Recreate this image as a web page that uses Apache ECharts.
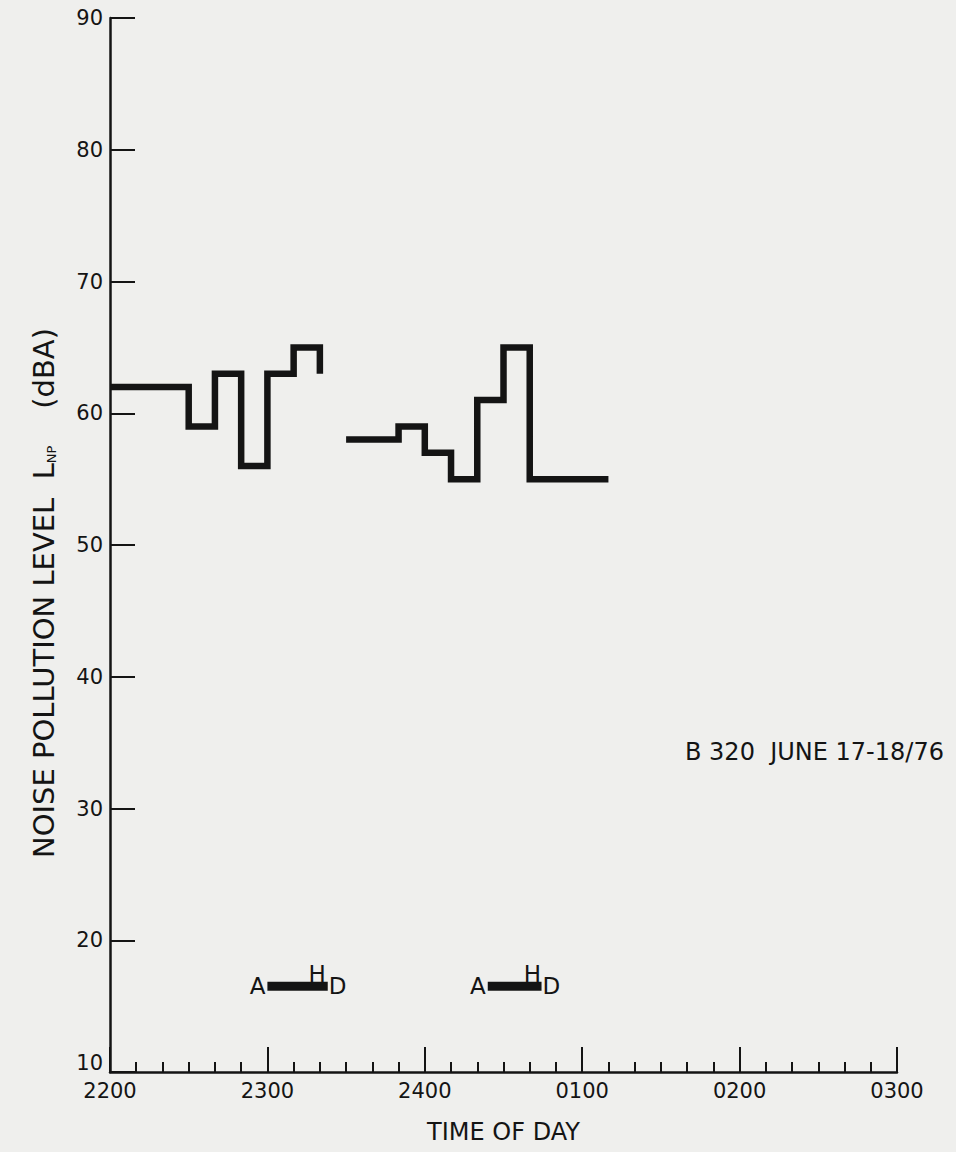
<!DOCTYPE html>
<html>
<head>
<meta charset="utf-8">
<script src="https://cdn.jsdelivr.net/npm/echarts@6/dist/echarts.min.js"></script>
<style>
  html, body { margin: 0; padding: 0; background: #efefed; }
  #chart { width: 956px; height: 1152px; }
</style>
</head>
<body>
<div id="chart"></div>
<script>
// ---- data (minutes after 2200, dBA) ----
const xTickLabels = ['2200', '2300', '2400', '0100', '0200', '0300'];
const seg1Minutes = [0, 30, 40, 50, 60, 70, 80];
const seg1Levels  = [62, 59, 63, 56, 63, 65, 63];
const seg2Minutes = [90, 110, 120, 130, 140, 150, 160, 190];
const seg2Levels  = [58, 59, 57, 55, 61, 65, 55, 55];
const eventStart  = [60, 144];     // "A"
const eventEnd    = [83, 164.5];   // "D"
const eventH      = [79, 161];     // "H"
const eventLevel  = 16.5;
const noteText    = 'B 320  JUNE 17-18/76';

const INK = '#141414';
const FONT = 'DejaVu Sans';

function pairs(xs, ys) { return xs.map((x, i) => [x, ys[i]]); }

const eventBars = eventStart.map((s, i) => ({
  type: 'line',
  data: [[s, eventLevel], [eventEnd[i], eventLevel]],
  symbol: 'none',
  silent: true,
  lineStyle: { color: INK, width: 9, cap: 'butt' },
  z: 3
}));

const letterData = [];
eventStart.forEach((s, i) => {
  letterData.push({ value: [s, eventLevel], label: { formatter: 'A', position: 'left', distance: 2 } });
  letterData.push({ value: [eventEnd[i], eventLevel], label: { formatter: 'D', position: 'right', distance: 1 } });
  letterData.push({ value: [eventH[i], eventLevel], label: { formatter: 'H', position: 'top', distance: 1 } });
});

const chart = echarts.init(document.getElementById('chart'), null, { renderer: 'svg' });
chart.setOption({
  backgroundColor: '#efefed',
  animation: false,
  textStyle: { fontFamily: FONT, color: INK },
  grid: { left: 110, right: 59, top: 18, bottom: 80 },
  xAxis: {
    type: 'value',
    min: 0, max: 300, interval: 60,
    name: 'TIME OF DAY',
    nameLocation: 'middle',
    nameGap: 48,
    nameTextStyle: { fontFamily: FONT, fontSize: 24, color: INK },
    axisLine: { show: true, onZero: false, lineStyle: { color: INK, width: 2.5 } },
    axisTick: { show: true, inside: true, length: 25, lineStyle: { color: INK, width: 2 } },
    minorTick: { show: true, splitNumber: 6, length: 10, lineStyle: { color: INK, width: 2 } },
    splitLine: { show: false },
    minorSplitLine: { show: false },
    axisLabel: {
      margin: 8, fontFamily: FONT, fontSize: 21, color: INK,
      formatter: v => xTickLabels[Math.round(v / 60)] || ''
    }
  },
  yAxis: {
    type: 'value',
    min: 10, max: 90, interval: 10,
    name: '{t|NOISE POLLUTION LEVEL  }{l|L}{s|NP}{t|    (dBA)}',
    nameLocation: 'middle',
    nameRotate: 90,
    nameGap: 52,
    nameTextStyle: {
      color: INK,
      padding: [0, 96, 0, 0],
      rich: {
        t: { fontFamily: FONT, fontSize: 29, color: INK, lineHeight: 34, verticalAlign: 'bottom' },
        l: { fontFamily: FONT, fontSize: 29, color: INK, lineHeight: 34, verticalAlign: 'bottom' },
        s: { fontFamily: FONT, fontSize: 13, color: INK, lineHeight: 13, verticalAlign: 'bottom' }
      }
    },
    axisLine: { show: true, onZero: false, lineStyle: { color: INK, width: 2.5 } },
    axisTick: { show: true, inside: true, length: 25, lineStyle: { color: INK, width: 2 } },
    splitLine: { show: false },
    axisLabel: {
      margin: 7, fontFamily: FONT, fontSize: 21, color: INK,
      formatter: v => (v === 10 ? '{low|' + v + '}' : String(v)),
      rich: { low: { fontFamily: FONT, fontSize: 21, color: INK, padding: [0, 0, 18, 0] } }
    }
  },
  series: [
    {
      type: 'line', step: 'end',
      data: pairs(seg1Minutes, seg1Levels),
      symbol: 'none', silent: true,
      lineStyle: { color: INK, width: 6.5, join: 'miter', cap: 'butt' },
      z: 4
    },
    {
      type: 'line', step: 'end',
      data: pairs(seg2Minutes, seg2Levels),
      symbol: 'none', silent: true,
      lineStyle: { color: INK, width: 6.5, join: 'miter', cap: 'butt' },
      z: 4
    },
    ...eventBars,
    {
      type: 'scatter',
      data: letterData,
      symbolSize: 0,
      silent: true,
      itemStyle: { opacity: 1 },
      label: { show: true, fontFamily: FONT, fontSize: 23, color: INK },
      z: 5
    }
  ],
  graphic: [
    {
      type: 'text',
      left: 685,
      top: 740,
      silent: true,
      style: { text: noteText, fontFamily: FONT, fontSize: 24, fill: INK }
    }
  ]
});
</script>
</body>
</html>
